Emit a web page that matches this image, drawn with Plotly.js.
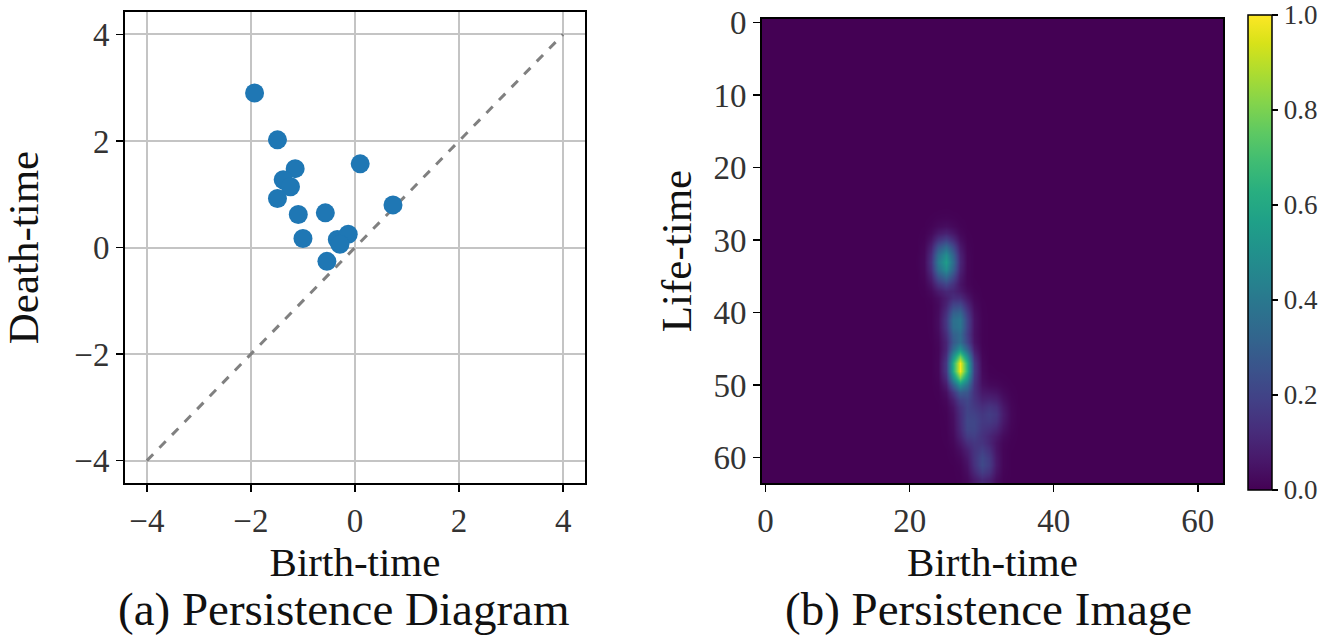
<!DOCTYPE html>
<html>
<head>
<meta charset="utf-8">
<script src="https://cdn.plot.ly/plotly-3.0.1.min.js"></script>
<style>html,body{margin:0;padding:0;background:#fff;}#chart{width:1342px;height:636px;}</style>
</head>
<body>
<div id="chart"></div>
<script>
// (a) Persistence diagram points
const birthTimes = [-1.93, -1.49, -1.15, -1.38, -1.24, -1.49, -1.09, -0.57, 0.10, 0.73, -1.00, -0.34, -0.13, -0.29, -0.54];
const deathTimes = [2.90, 2.02, 1.48, 1.27, 1.14, 0.92, 0.62, 0.65, 1.57, 0.80, 0.17, 0.15, 0.25, 0.06, -0.26];
const diagTicks = [-4, -2, 0, 2, 4];

// (b) Persistence image: blobs (pixel grid 64x64)
const blobBirth = [24.9, 26.6, 27.0, 27.9, 28.4, 31.4, 30.2];
const blobLife  = [33.0, 41.3, 47.5, 51.6, 55.8, 54.1, 60.7];
const blobPeak  = [0.55, 0.42, 1.00, 0.14, 0.20, 0.17, 0.22];
const blobSigX  = [1.15, 1.15, 1.05, 1.2, 1.2, 1.2, 1.15];
const blobSigY  = [2.1, 2.1, 1.9, 2.0, 2.1, 2.0, 2.0];
const imgSize = 64;
const imgXTicks = [0, 20, 40, 60];
const imgYTicks = [0, 10, 20, 30, 40, 50, 60];
const cbTicks = [0, 0.2, 0.4, 0.6, 0.8, 1.0];

const z = [];
for (let r = 0; r < imgSize; r++) {
  const row = [];
  for (let c = 0; c < imgSize; c++) {
    let v = 0;
    for (let k = 0; k < blobBirth.length; k++) {
      const dx = (c - blobBirth[k]) / blobSigX[k];
      const dy = (r - blobLife[k]) / blobSigY[k];
      v += blobPeak[k] * Math.exp(-0.5 * (dx * dx + dy * dy));
    }
    row.push(Math.min(v, 1));
  }
  z.push(row);
}
const idx = Array.from({length: imgSize}, (_, i) => i);

const FONT = "Liberation Serif, Times New Roman, serif";

const traces = [
  {
    type: 'scatter', mode: 'lines', x: [-4, 4], y: [-4, 4],
    line: {color: '#808080', width: 3, dash: 'dash'},
    xaxis: 'x', yaxis: 'y', hoverinfo: 'skip', showlegend: false
  },
  {
    type: 'scatter', mode: 'markers', x: birthTimes, y: deathTimes,
    marker: {color: '#1f77b4', size: 19},
    xaxis: 'x', yaxis: 'y', showlegend: false
  },
  {
    type: 'heatmap', z: z, x: idx, y: idx,
    colorscale: 'Viridis', zmin: 0, zmax: 1, zsmooth: 'best',
    xaxis: 'x2', yaxis: 'y2', showscale: true,
    colorbar: {
      x: 1248/1342, xanchor: 'left', xref: 'paper',
      y: 1 - 490/636, yanchor: 'bottom', yref: 'paper',
      len: (490 - 15)/636, lenmode: 'fraction',
      thickness: 24, thicknessmode: 'pixels',
      outlinecolor: '#000', outlinewidth: 1.5,
      tickvals: cbTicks, tickformat: '.1f',
      ticks: 'outside', ticklen: 6, tickcolor: '#000', tickwidth: 1.5,
      tickfont: {family: FONT, size: 27, color: '#333'},
      xpad: 0, ypad: 0
    }
  }
];

const axisCommon = {
  showline: true, linecolor: '#000', linewidth: 2, mirror: true,
  ticks: 'outside', ticklen: 7, tickwidth: 1.5, tickcolor: '#000',
  tickfont: {family: FONT, size: 33, color: '#333'},
  zeroline: false
};

const layout = {
  width: 1342, height: 636,
  margin: {l: 0, r: 0, t: 0, b: 0},
  paper_bgcolor: '#fff', plot_bgcolor: '#fff',
  font: {family: FONT, color: '#000'},
  showlegend: false,
  xaxis: Object.assign({}, axisCommon, {
    domain: [125/1342, 585/1342], range: [-4.42, 4.42],
    tickvals: diagTicks, showgrid: true, gridcolor: '#c4c4c4', gridwidth: 2,
    title: {text: 'Birth-time', font: {family: FONT, size: 41, color: '#111'}, standoff: 0},
    anchor: 'y'
  }),
  yaxis: Object.assign({}, axisCommon, {
    domain: [1 - 483/636, 1 - 12/636], range: [-4.42, 4.42],
    tickvals: diagTicks, showgrid: true, gridcolor: '#c4c4c4', gridwidth: 2,
    title: {text: 'Death-time', font: {family: FONT, size: 43, color: '#111'}, standoff: 22},
    anchor: 'x'
  }),
  xaxis2: Object.assign({}, axisCommon, {
    domain: [762/1342, 1223/1342], range: [-0.5, 63.5],
    tickvals: imgXTicks, showgrid: false,
    title: {text: 'Birth-time', font: {family: FONT, size: 41, color: '#111'}, standoff: 0},
    anchor: 'y2'
  }),
  yaxis2: Object.assign({}, axisCommon, {
    domain: [1 - 483/636, 1 - 19/636], range: [63.5, -0.5],
    tickvals: imgYTicks, showgrid: false,
    title: {text: 'Life-time', font: {family: FONT, size: 43, color: '#111'}, standoff: 8},
    anchor: 'x2'
  }),
  annotations: [
    {text: '(a) Persistence Diagram', x: 344/1342, y: 1 - 609/636, xref: 'paper', yref: 'paper',
     showarrow: false, xanchor: 'center', yanchor: 'middle', font: {family: FONT, size: 47, color: '#111'}},
    {text: '(b) Persistence Image', x: 988/1342, y: 1 - 609/636, xref: 'paper', yref: 'paper',
     showarrow: false, xanchor: 'center', yanchor: 'middle', font: {family: FONT, size: 47, color: '#111'}}
  ]
};

Plotly.newPlot('chart', traces, layout, {displayModeBar: false, staticPlot: true});
</script>
</body>
</html>
